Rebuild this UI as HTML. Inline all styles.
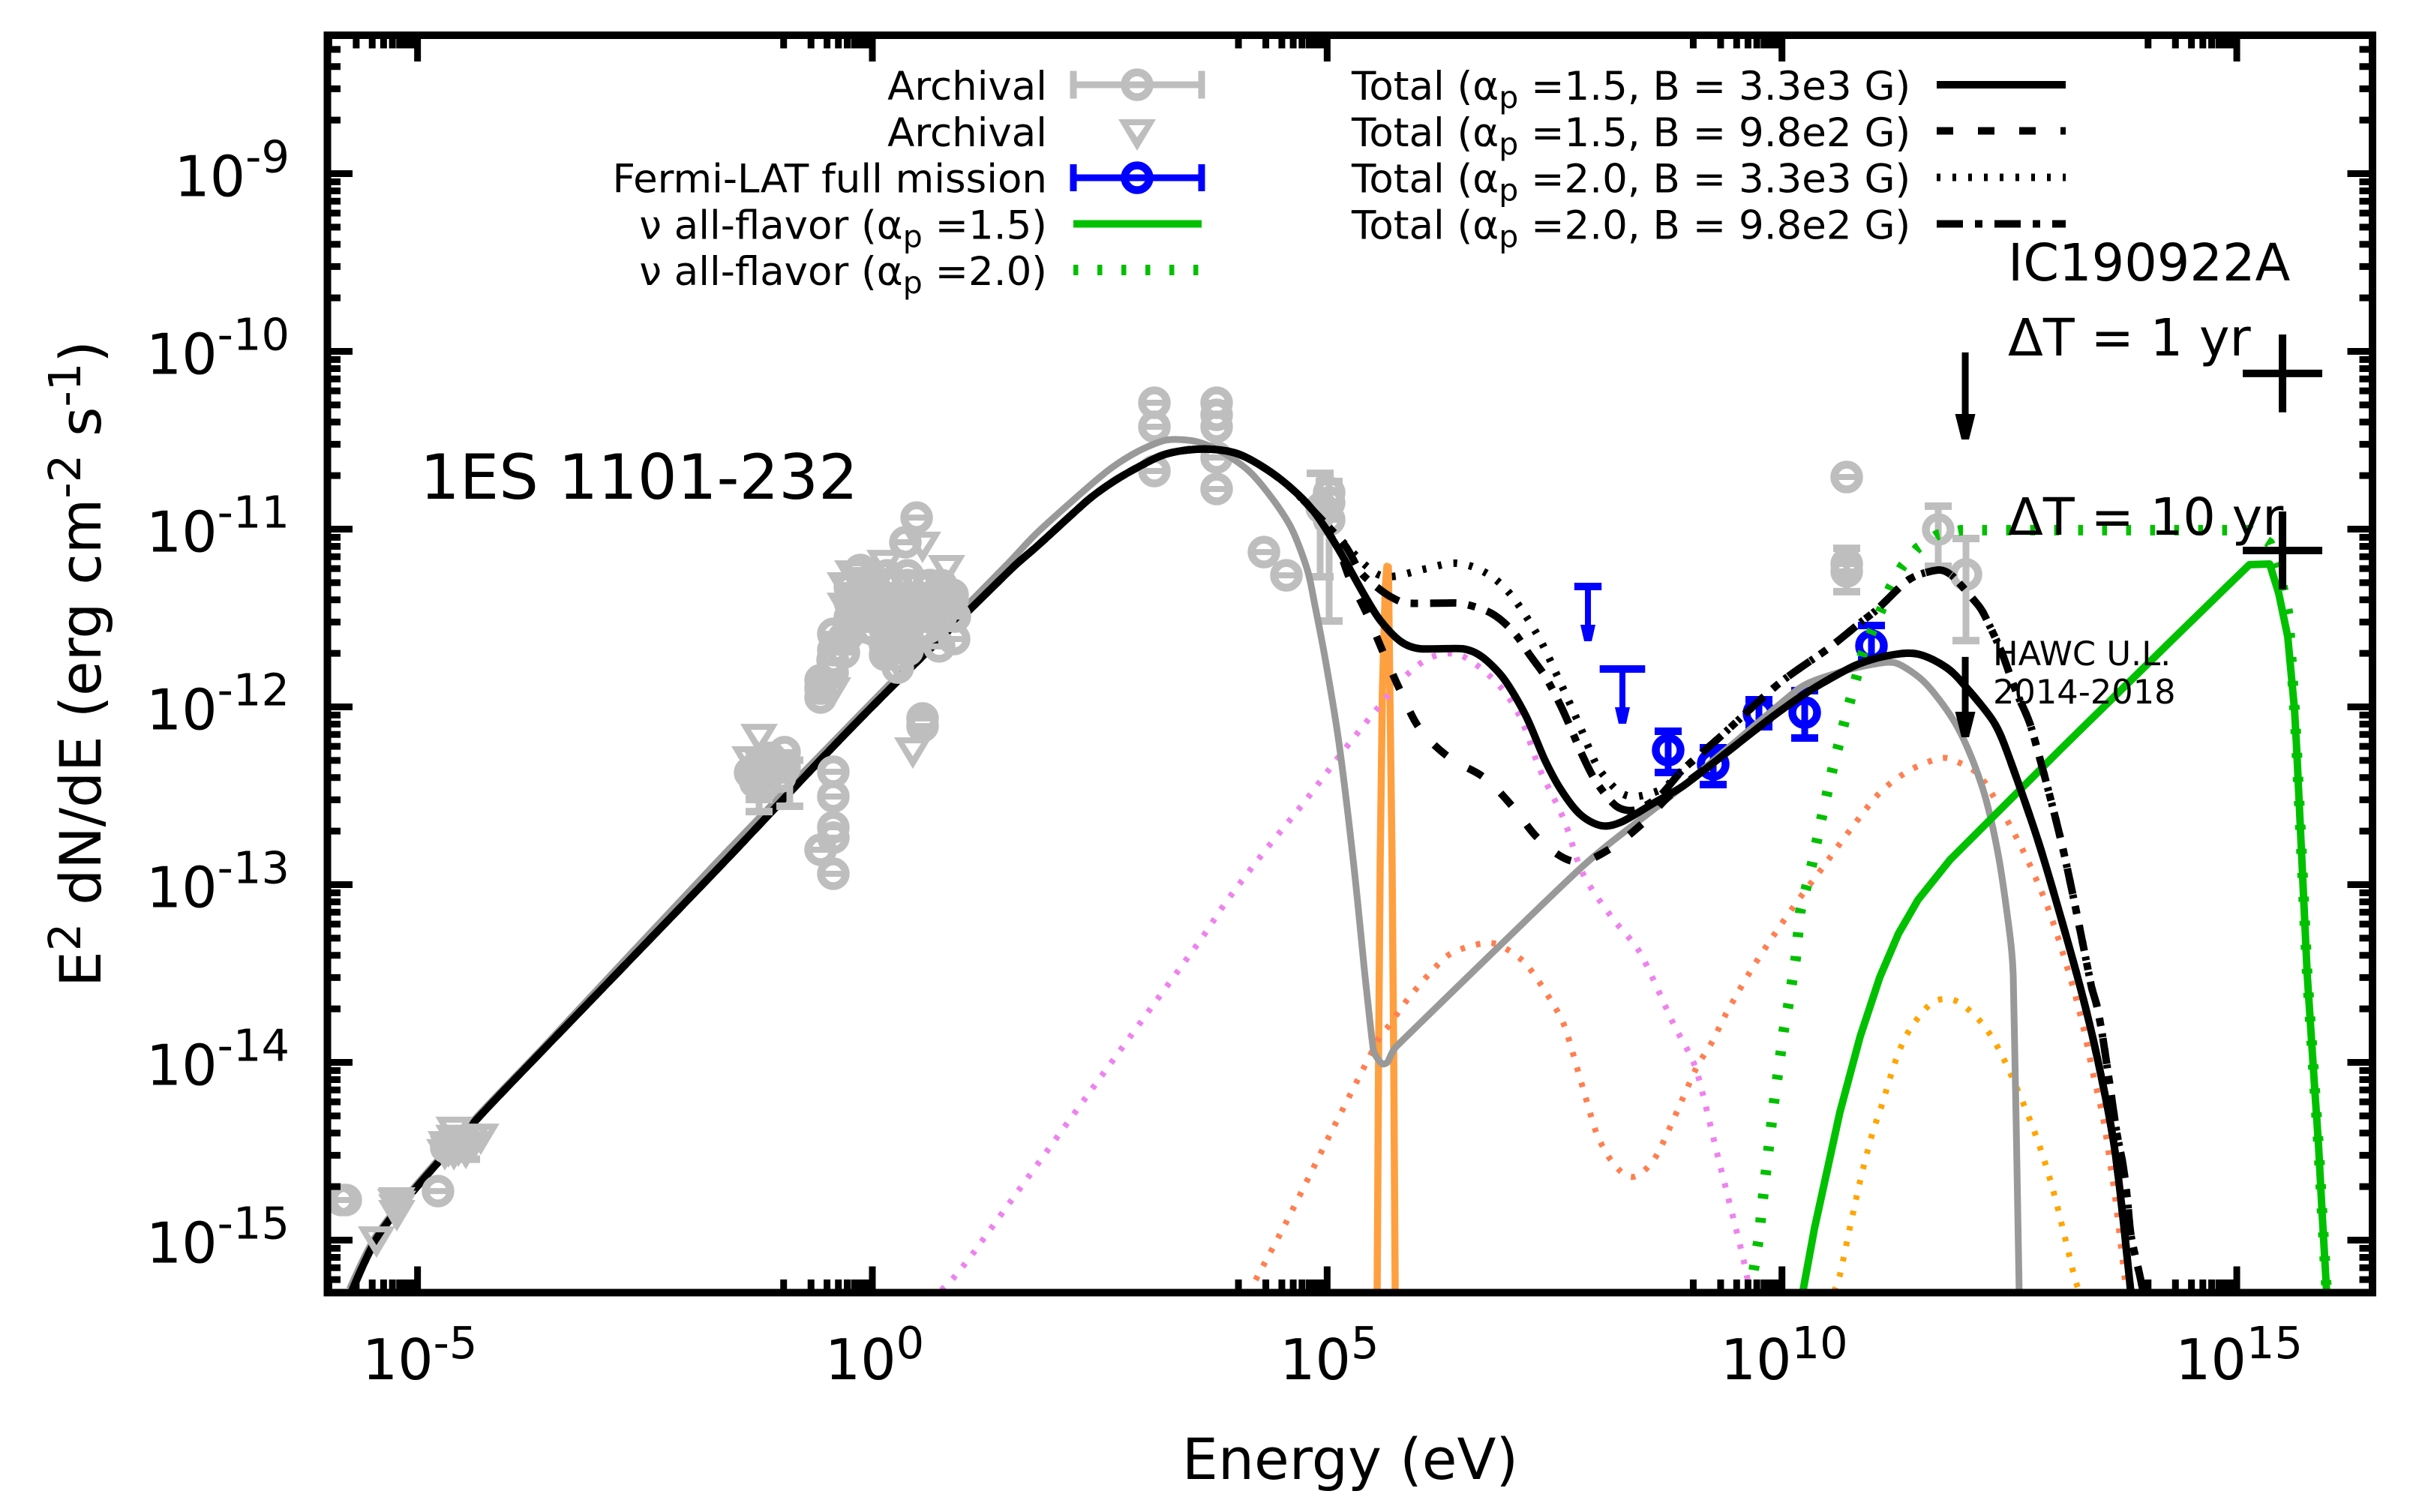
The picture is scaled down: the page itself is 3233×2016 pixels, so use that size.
<!DOCTYPE html>
<html lang="en">
<head>
<meta charset="utf-8">
<title>1ES 1101-232 SED</title>
<style>
html,body{margin:0;padding:0;background:#fff;}
svg{display:block;}
text{font-family:"DejaVu Sans","Liberation Sans",sans-serif;fill:#000;}
</style>
</head>
<body>
<svg id="chart" xmlns="http://www.w3.org/2000/svg" width="3233" height="2016" viewBox="0 0 3233 2016">
  <rect x="0" y="0" width="3233" height="2016" fill="#fff"/>
  <defs><clipPath id="plotClip"><rect x="436" y="47" width="2727" height="1677"/></clipPath></defs>
  <g id="under" clip-path="url(#plotClip)"></g>
  <g id="curves" clip-path="url(#plotClip)"></g>
  <g id="over" clip-path="url(#plotClip)"></g>
  <g id="axes"></g>

  <g font-size="53" text-anchor="end">
    <text x="1396" y="133">Archival</text>
    <text x="1396" y="195">Archival</text>
    <text x="1396" y="256.5">Fermi-LAT full mission</text>
    <text x="1396" y="318.5">ν all-flavor (α<tspan dy="11" font-size="41">p</tspan><tspan dy="-11"> =1.5)</tspan></text>
    <text x="1396" y="380">ν all-flavor (α<tspan dy="11" font-size="41">p</tspan><tspan dy="-11"> =2.0)</tspan></text>
  </g>
  <g fill="none">
    <g stroke="#bebebe" stroke-width="9">
      <line x1="1431" y1="113" x2="1602" y2="113"/><line x1="1431" y1="94.5" x2="1431" y2="131.5"/><line x1="1602" y1="94.5" x2="1602" y2="131.5"/>
      <circle cx="1516" cy="113" r="16.5" stroke-width="10.5"/>
    </g>
    <path d="M1491,159 L1541,159 L1516,201 Z M1505,167 L1527,167 L1516,183 Z" fill="#bebebe" fill-rule="evenodd"/>
    <g stroke="#0000ff" stroke-width="9">
      <line x1="1431" y1="237" x2="1602" y2="237"/><line x1="1431" y1="219" x2="1431" y2="255"/><line x1="1602" y1="219" x2="1602" y2="255"/>
      <circle cx="1516" cy="237" r="16.5" stroke-width="10.5"/>
    </g>
    <line x1="1431" y1="298.5" x2="1602" y2="298.5" stroke="#00c000" stroke-width="10"/>
    <line x1="1431" y1="360" x2="1602" y2="360" stroke="#00c000" stroke-width="14" stroke-dasharray="6.5 25.5"/>
  </g>
  <g font-size="53">
    <text x="1802" y="133">Total (α<tspan dy="11" font-size="41">p</tspan><tspan dy="-11"> =1.5, B = 3.3e3 G)</tspan></text>
    <text x="1802" y="195">Total (α<tspan dy="11" font-size="41">p</tspan><tspan dy="-11"> =1.5, B = 9.8e2 G)</tspan></text>
    <text x="1802" y="256.5">Total (α<tspan dy="11" font-size="41">p</tspan><tspan dy="-11"> =2.0, B = 3.3e3 G)</tspan></text>
    <text x="1802" y="318.5">Total (α<tspan dy="11" font-size="41">p</tspan><tspan dy="-11"> =2.0, B = 9.8e2 G)</tspan></text>
  </g>
  <g stroke="#000" stroke-width="10" fill="none">
    <line x1="2582" y1="113" x2="2754" y2="113"/>
    <line x1="2582" y1="174.5" x2="2754" y2="174.5" stroke-dasharray="22 33"/>
    <line x1="2582" y1="236.5" x2="2754" y2="236.5" stroke-dasharray="5 16"/>
    <line x1="2582" y1="298.5" x2="2754" y2="298.5" stroke-dasharray="35 16 10 16"/>
  </g>

  <text x="560" y="665" font-size="83">1ES 1101-232</text>
  <text x="2677" y="374" font-size="68.5">IC190922A</text>
  <text x="2677" y="474" font-size="68.5">ΔT = 1 yr</text>
  <text x="2677" y="713" font-size="68.5">ΔT = 10 yr</text>
  <text x="2657" y="887" font-size="44.7">HAWC U.L.</text>
  <text x="2657" y="938" font-size="44.7">2014-2018</text>

  <text x="1800" y="1972" font-size="76" text-anchor="middle">Energy (eV)</text>
  <text transform="translate(134,1316) rotate(-90)" font-size="75.5">E<tspan dy="-27" font-size="59">2</tspan><tspan dy="27"> dN/dE (erg cm</tspan><tspan dy="-27" font-size="59">-2</tspan><tspan dy="27"> s</tspan><tspan dy="-27" font-size="59">-1</tspan><tspan dy="27">)</tspan></text>
</svg>
<script>
// ---------- axis tick data ----------
const xMajorDecades = [-5, 0, 5, 10, 15];
const xTickSup = ['-5', '0', '5', '10', '15'];
const yMajorDecades = [-9, -10, -11, -12, -13, -14, -15];
const yTickSup = ['-9', '-10', '-11', '-12', '-13', '-14', '-15'];

// ---------- model curves: log10(E/eV), log10(flux) ----------
const commonLogE = [-5.723,-5.442,-5.038,-4.354,-3.620,-1.674,-0.148,1.542,1.814,2.367,2.639,2.919,3.191,3.463,3.744,4.016,4.288,4.568,4.840];
const commonLogF = [-15.289,-14.985,-14.719,-14.323,-13.930,-12.897,-12.074,-11.217,-11.095,-10.838,-10.736,-10.652,-10.584,-10.555,-10.551,-10.576,-10.648,-10.753,-10.892];
const solidMidLogE = [5.113,5.393,5.583,5.805,6.020,6.490,6.704,6.943,7.183,7.388,7.570,7.784,8.023,8.254,8.601,8.914];
const solidMidLogF = [-11.103,-11.357,-11.513,-11.631,-11.673,-11.673,-11.719,-11.842,-12.049,-12.293,-12.466,-12.606,-12.669,-12.643,-12.538,-12.445];
const highTailLogE = [9.384,9.912,10.332,10.811,11.173,11.495,11.808,12.023,12.320,12.468,12.839,13.243,13.466,13.664,13.837];
const highTailLogF = [-12.260,-12.049,-11.901,-11.766,-11.711,-11.703,-11.779,-11.888,-12.078,-12.243,-12.791,-13.508,-13.973,-14.508,-15.302];
const dashedMidLogE = [5.113,5.253,5.442,5.624,5.813,6.020,6.341,6.729,7.050,7.339,7.727,8.122,8.494,8.782];
const dashedMidLogF = [-11.103,-11.285,-11.483,-11.703,-11.918,-12.124,-12.285,-12.399,-12.568,-12.749,-12.871,-12.795,-12.643,-12.492];
const dottedMidLogE = [5.088,5.310,5.434,5.583,5.764,6.094,6.432,6.762,7.026,7.314,7.545,7.760,7.966,8.180,8.337,8.518,8.708];
const dottedMidLogF = [-11.027,-11.146,-11.209,-11.260,-11.264,-11.222,-11.192,-11.251,-11.373,-11.597,-11.842,-12.087,-12.331,-12.466,-12.504,-12.492,-12.454];
const dashDotMidLogE = [5.195,5.360,5.517,5.690,5.871,6.284,6.498,6.811,7.050,7.232,7.413,7.603,7.809,7.966,8.180,8.386,8.650];
const dashDotMidLogF = [-11.091,-11.238,-11.314,-11.378,-11.416,-11.416,-11.420,-11.475,-11.580,-11.711,-11.842,-12.032,-12.276,-12.428,-12.559,-12.580,-12.504];
const riseTailLogE = [8.914,9.335,9.962,10.505,10.852,11.041,11.338,11.487,11.734,11.883,12.171,12.270,12.419,12.567,12.740,13.086,13.400,13.466,13.532,13.614,13.680,13.746,13.796,13.837,13.928,13.977];
const riseTailLogF = [-12.352,-12.162,-11.871,-11.673,-11.530,-11.454,-11.306,-11.260,-11.230,-11.268,-11.437,-11.530,-11.698,-11.905,-12.116,-12.791,-13.568,-13.690,-13.876,-14.162,-14.394,-14.568,-14.762,-14.973,-15.184,-15.302];
const grayLogE = [-5.747,-5.467,-5.063,-4.379,-3.645,-1.715,-0.181,1.501,1.814,2.367,2.639,2.919,3.191,3.381,3.604,3.876,4.156,4.428,4.618,4.783,4.865,4.981,5.129,5.286,5.418,5.508,5.599,5.665,5.756,7.809,8.864,10.176,10.613,11.041,11.272,11.586,11.932,12.204,12.378,12.509,12.542,12.575,12.608];
const grayLogF = [-15.276,-14.985,-14.719,-14.323,-13.930,-12.876,-12.065,-11.188,-11.019,-10.766,-10.652,-10.563,-10.504,-10.496,-10.513,-10.576,-10.681,-10.850,-11.006,-11.230,-11.428,-11.736,-12.200,-12.859,-13.521,-13.930,-14.006,-13.998,-13.913,-12.897,-12.466,-11.901,-11.808,-11.757,-11.757,-11.871,-12.116,-12.454,-12.833,-13.297,-13.508,-14.352,-15.302];
const violetLogE = [0.759,0.899,1.113,2.367,3.604,3.892,4.313,4.758,5.179,5.624,5.863,6.152,6.473,6.861,7.125,7.339,7.603,7.809,8.122,8.444,8.807,9.054,9.310,9.565,9.648];
const violetLogF = [-15.281,-15.209,-15.070,-14.184,-13.314,-13.095,-12.812,-12.530,-12.247,-11.964,-11.825,-11.719,-11.711,-11.863,-12.061,-12.352,-12.635,-12.935,-13.179,-13.386,-13.783,-14.036,-14.559,-15.082,-15.289];
const coralLogE = [4.131,4.544,5.055,5.574,5.682,5.888,6.127,6.366,6.704,6.894,7.183,7.471,7.628,7.949,8.139,8.370,8.634,9.054,9.228,9.384,9.648,9.937,10.233,10.440,10.753,11.075,11.388,11.701,11.850,12.180,12.592,12.922,13.177,13.309,13.417,13.532,13.614,13.664,13.788];
const coralLogF = [-15.302,-14.905,-14.382,-13.859,-13.791,-13.643,-13.500,-13.386,-13.331,-13.340,-13.445,-13.660,-13.821,-14.382,-14.563,-14.644,-14.513,-14.036,-13.888,-13.728,-13.492,-13.264,-13.049,-12.909,-12.690,-12.483,-12.361,-12.293,-12.293,-12.390,-12.749,-13.129,-13.538,-13.795,-14.057,-14.319,-14.589,-14.762,-15.302];
const orangeDotLogE = [10.572,10.637,10.745,10.860,10.992,11.099,11.256,11.404,11.627,11.784,11.957,12.196,12.394,12.608,12.806,12.963,13.095,13.218,13.268];
const orangeDotLogF = [-15.289,-15.196,-14.935,-14.665,-14.403,-14.238,-13.981,-13.816,-13.673,-13.643,-13.665,-13.778,-13.935,-14.175,-14.433,-14.686,-14.951,-15.213,-15.289];
const neutrinoSolidLogE = [10.225,10.357,10.637,10.860,11.075,11.281,11.495,11.850,13.054,14.282,14.925,15.140,15.362,15.461,15.560,15.635,15.659,15.775,15.849,15.899,15.940,15.989];
const neutrinoSolidLogF = [-15.302,-14.935,-14.281,-13.854,-13.521,-13.276,-13.086,-12.859,-12.243,-11.627,-11.306,-11.200,-11.196,-11.361,-11.605,-12.019,-12.243,-13.508,-14.087,-14.470,-14.859,-15.302];
const neutrinoDotLogE = [9.648,9.747,9.788,9.912,10.019,10.069,10.151,10.200,10.332,10.440,10.555,10.679,10.819,10.885,10.984,11.091,11.190,11.322,11.487,11.709,11.973,15.140,15.362,15.461,15.568,15.635,15.659,15.775,15.849,15.899,15.940,15.989];
const neutrinoDotLogF = [-15.302,-14.985,-14.774,-14.226,-13.821,-13.681,-13.416,-13.154,-12.880,-12.614,-12.352,-12.099,-11.833,-11.703,-11.580,-11.454,-11.331,-11.209,-11.108,-11.032,-11.006,-11.006,-11.078,-11.222,-11.483,-12.019,-12.243,-13.508,-14.087,-14.470,-14.859,-15.302];
const spikeLogE = [5.550,5.566,5.583,5.607,5.640,5.657,5.673,5.690,5.714,5.731,5.748];
const spikeLogF = [-15.302,-13.930,-12.859,-11.918,-11.314,-11.209,-11.213,-11.918,-12.859,-13.930,-15.302];

// ---------- archival data: circles under the curves ----------
const lowCircleLogE = [3.101,3.101,3.101,3.785,3.785,3.785,3.785,3.785,4.305,4.552,4.940,5.022,5.022,5.022,10.712,10.712,10.712];
const lowCircleLogF = [-10.289,-10.424,-10.673,-10.289,-10.357,-10.424,-10.597,-10.774,-11.129,-11.260,-10.880,-10.795,-10.850,-10.947,-10.707,-11.196,-11.238];
// ---------- archival data: circles over the curves ----------
const topCircleLogE = [-5.838,-5.789,-4.775,-4.684,0.487,0.363,-0.132,-0.247,-0.247,-0.247,-0.049,-0.049,-0.049,0.165,0.165,0.165,0.165,0.388,0.388,0.388,0.388,0.280,0.140,0.610,0.610,0.610,0.882,0.907,0.899,0.734,-0.429,-0.429,-0.429,-0.272,-0.569,-0.569,-0.437,0.552,0.552,-0.429,-0.429,-0.429,-0.429,-0.569,-0.429,-1.262,-0.965,-0.965,-1.286,-1.121,-1.237,
  -0.231,-0.231,-0.231,-0.107,-0.107,-0.107,0.016,0.016,0.016,0.016,0.140,0.140,0.140,0.140,0.140,0.264,0.264,0.264,0.264,0.264,0.388,0.388,0.388,0.388,0.388,0.511,0.511,0.511,0.511,0.635,0.635,0.635,0.759,0.759,0.759,0.882,0.882,
  -0.569,-0.437,-0.313,-0.313,-1.121,-1.014,-1.179,-1.344,-1.100];
const topCircleLogF = [-14.774,-14.774,-14.724,-14.479,-10.935,-11.074,-11.230,-11.327,-11.411,-11.496,-11.327,-11.441,-11.555,-11.260,-11.399,-11.538,-11.681,-11.260,-11.399,-11.538,-11.681,-11.779,-11.707,-11.327,-11.441,-11.555,-11.369,-11.492,-11.618,-11.660,-11.589,-11.681,-11.749,-11.597,-11.850,-11.947,-11.808,-12.065,-12.108,-12.365,-12.504,-12.677,-12.736,-12.804,-12.939,-12.335,-12.255,-12.340,-12.424,-12.327,-12.399,
  -11.315,-11.399,-11.483,-11.315,-11.399,-11.483,-11.315,-11.399,-11.483,-11.567,-11.315,-11.399,-11.483,-11.567,-11.652,-11.315,-11.399,-11.483,-11.567,-11.652,-11.315,-11.399,-11.483,-11.567,-11.652,-11.315,-11.399,-11.483,-11.567,-11.315,-11.399,-11.483,-11.315,-11.399,-11.483,-11.399,-11.483,
  -11.897,-11.736,-11.610,-11.694,-12.287,-12.393,-12.433,-12.370,-12.360];
// ---------- archival data: triangle limits ----------
const triangleLogE = [-5.451,-5.228,-5.228,-4.597,-4.305,-4.684,-4.544,-4.395,-4.659,-4.469,0.816,0.552,0.140,-0.214,-0.297,-0.297,0.445,-1.245,-1.344,-1.237,0.305,-0.437,
  -4.600,-4.500,-4.400,-4.550,-4.480,-4.600,-4.700,-5.228,-5.240,-5.220];
const triangleLogF = [-15.011,-14.791,-14.863,-14.394,-14.433,-14.475,-14.475,-14.475,-14.504,-14.513,-11.234,-11.103,-11.205,-11.264,-11.331,-11.446,-12.260,-12.184,-12.310,-12.310,-11.787,-11.922,
  -14.440,-14.440,-14.440,-14.500,-14.500,-14.520,-14.520,-14.830,-14.800,-14.810];
// ---------- archival data: vertical error bars ----------
const grayErrLogE = [4.923,5.022,10.712,11.718,12.023,-4.461,-1.245,-1.245,-0.907];
const grayErrHiLogF = [-10.686,-10.732,-11.108,-10.871,-11.053,-14.45,-12.243,-12.243,-12.300];
const grayErrLoLogF = [-11.268,-11.517,-11.352,-11.209,-11.627,-14.545,-12.589,-12.521,-12.559];
const grayVertLogE = [11.718,12.023];
const grayVertLogF = [-11.002,-11.255];

// ---------- Fermi-LAT ----------
const fermiLogE = [8.749,9.244,9.747,10.250,10.984];
const fermiLogF = [-12.243,-12.323,-12.036,-12.032,-11.656];
const fermiHiLogF = [-12.137,-12.230,-11.960,-11.909,-11.542];
const fermiLoLogF = [-12.369,-12.437,-12.112,-12.175,-11.736];
const fermiLimitLogE = [7.867,8.246];
const fermiLimitLogF = [-11.323,-11.787];
const fermiLimitHalfWidthDecades = [0.15,0.25];

// ---------- HAWC and IceCube limits ----------
const hawcLogE = [12.015,12.015];
const hawcTopLogF = [-10.006,-11.719];
const hawcTipLogF = [-10.496,-12.171];
const icecubeLogE = [15.503,15.503];
const icecubeLogF = [-10.124,-11.120];
const icecubeHalfWidthDecades = [0.437,0.437];
const icecubeHalfHeightDecades = [0.219,0.219];

// ---------- axis functions ----------
const xPx = v => 1163 + v * 121.27;
const yPx = v => 231.5 + (-9 - v) * 237;

const NS = 'http://www.w3.org/2000/svg';
const gUnder = document.getElementById('under');
const gCurves = document.getElementById('curves');
const gOver = document.getElementById('over');
const gAxes = document.getElementById('axes');

function mk(parent, tag, attrs) {
  const el = document.createElementNS(NS, tag);
  for (const k in attrs) el.setAttribute(k, attrs[k]);
  parent.appendChild(el);
  return el;
}
function seg(parent, x1, y1, x2, y2, color, w) {
  return mk(parent, 'line', {x1: x1, y1: y1, x2: x2, y2: y2, stroke: color, 'stroke-width': w});
}
// Bounded Catmull-Rom: tangent length limited by the shorter neighbouring segment, so no overshoot.
function smoothPath(pts) {
  let d = 'M' + pts[0][0].toFixed(1) + ',' + pts[0][1].toFixed(1);
  const tangent = i => {
    if (i === 0 || i === pts.length - 1) return [0, 0];
    const a = pts[i - 1], b = pts[i], c = pts[i + 1];
    const la = Math.hypot(b[0] - a[0], b[1] - a[1]), lc = Math.hypot(c[0] - b[0], c[1] - b[1]);
    const tx = c[0] - a[0], ty = c[1] - a[1], tl = Math.hypot(tx, ty) || 1;
    const s = Math.min(la, lc) / 3 / tl;
    return [tx * s, ty * s];
  };
  for (let i = 0; i < pts.length - 1; i++) {
    const t0 = tangent(i), t1 = tangent(i + 1);
    d += ' C' + (pts[i][0] + t0[0]).toFixed(1) + ',' + (pts[i][1] + t0[1]).toFixed(1) + ' ' +
         (pts[i + 1][0] - t1[0]).toFixed(1) + ',' + (pts[i + 1][1] - t1[1]).toFixed(1) + ' ' +
         pts[i + 1][0].toFixed(1) + ',' + pts[i + 1][1].toFixed(1);
  }
  return d;
}
function curve(parent, es, fs, color, w, dash, smooth) {
  const pts = es.map((e, i) => [xPx(e), yPx(fs[i])]);
  const d = smooth ? smoothPath(pts) : pts.map((p, i) => (i ? 'L' : 'M') + p[0].toFixed(1) + ',' + p[1].toFixed(1)).join(' ');
  const attrs = {d: d, fill: 'none', stroke: color, 'stroke-width': w, 'stroke-linejoin': 'round'};
  if (dash) attrs['stroke-dasharray'] = dash;
  return mk(parent, 'path', attrs);
}
function circleMark(parent, e, f, color, bar) {
  const g = mk(parent, 'g', {});
  const cx = xPx(e), cy = yPx(f);
  mk(g, 'circle', {cx: cx, cy: cy, r: 16.5, fill: 'none', stroke: color, 'stroke-width': 10.5});
  if (bar) seg(g, cx - 17, cy, cx + 17, cy, color, 8);
  return g;
}
function triangleMark(parent, e, f, color) {
  const cx = xPx(e), cy = yPx(f);
  const d = 'M' + (cx - 25) + ',' + (cy - 21) + ' L' + (cx + 25) + ',' + (cy - 21) + ' L' + cx + ',' + (cy + 21) + ' Z ' +
            'M' + (cx - 11) + ',' + (cy - 13) + ' L' + (cx + 11) + ',' + (cy - 13) + ' L' + cx + ',' + (cy + 4) + ' Z';
  return mk(parent, 'path', {d: d, fill: color, 'fill-rule': 'evenodd'});
}
function errBar(parent, e, hi, lo, color, capHalf) {
  const g = mk(parent, 'g', {});
  const x = xPx(e), y1 = yPx(hi), y2 = yPx(lo);
  seg(g, x, y1, x, y2, color, 9);
  seg(g, x - capHalf, y1, x + capHalf, y1, color, 10);
  seg(g, x - capHalf, y2, x + capHalf, y2, color, 10);
  return g;
}

// ---------- layer below the curves ----------
lowCircleLogE.forEach((e, i) => {
  const m = circleMark(gUnder, e, lowCircleLogF[i], '#bebebe', true);
  
  
});
grayErrLogE.slice(0, 5).forEach((e, i) => {
  const m = errBar(gUnder, e, grayErrHiLogF[i], grayErrLoLogF[i], '#bebebe', 18);
  
  
});
grayVertLogE.forEach((e, i) => {
  const m = circleMark(gUnder, e, grayVertLogF[i], '#bebebe', false);
  
  
});
fermiLogE.forEach((e, i) => {
  const b = errBar(gUnder, e, fermiHiLogF[i], fermiLoLogF[i], '#0000ff', 18);
  
  
  const m = circleMark(gUnder, e, fermiLogF[i], '#0000ff', false);
  
  
});
fermiLimitLogE.forEach((e, i) => {
  const g = mk(gUnder, 'g', {});
  
  
  const x = xPx(e), y = yPx(fermiLimitLogF[i]);
  const hw = fermiLimitHalfWidthDecades[i] * 121.27;
  seg(g, x - hw, y, x + hw, y, '#0000ff', 10);
  seg(g, x, y, x, y + 55, '#0000ff', 8);
  mk(g, 'polygon', {points: (x - 10) + ',' + (y + 51) + ' ' + (x + 10) + ',' + (y + 51) + ' ' + (x + 5) + ',' + (y + 73) + ' ' + (x - 5) + ',' + (y + 73), fill: '#0000ff'});
});

// ---------- curves ----------
const solidE = commonLogE.concat(solidMidLogE, highTailLogE);
const solidF = commonLogF.concat(solidMidLogF, highTailLogF);
const dashedE = commonLogE.concat(dashedMidLogE, highTailLogE);
const dashedF = commonLogF.concat(dashedMidLogF, highTailLogF);
const dottedE = commonLogE.concat(dottedMidLogE, riseTailLogE);
const dottedF = commonLogF.concat(dottedMidLogF, riseTailLogF);
const dashDotE = commonLogE.concat(dashDotMidLogE, riseTailLogE);
const dashDotF = commonLogF.concat(dashDotMidLogF, riseTailLogF);

let c;
c = curve(gCurves, spikeLogE, spikeLogF, '#ffa040', 9.5);


c = curve(gCurves, violetLogE, violetLogF, '#ee82ee', 8, '6 15', true);


c = curve(gCurves, coralLogE, coralLogF, '#ff7f50', 8, '6 15', true);


c = curve(gCurves, orangeDotLogE, orangeDotLogF, '#ffa500', 8, '6 15', true);


c = curve(gCurves, grayLogE, grayLogF, '#999999', 9, null, true);


c = curve(gCurves, neutrinoSolidLogE, neutrinoSolidLogF, '#00c000', 10);


c = curve(gCurves, neutrinoDotLogE, neutrinoDotLogF, '#00c000', 14, '6.5 25.5');


c = curve(gCurves, dottedE, dottedF, '#000', 10, '5 16', true);


c = curve(gCurves, dashDotE, dashDotF, '#000', 10, '35 16 10 16', true);


c = curve(gCurves, dashedE, dashedF, '#000', 10, '22 33', true);


c = curve(gCurves, solidE, solidF, '#000', 10, null, true);



// ---------- layer above the curves ----------
grayErrLogE.slice(5).forEach((e, i) => {
  const m = errBar(gOver, e, grayErrHiLogF[i + 5], grayErrLoLogF[i + 5], '#bebebe', 18);
  
  
});
topCircleLogE.forEach((e, i) => {
  const m = circleMark(gOver, e, topCircleLogF[i], '#bebebe', true);
  
  
});
triangleLogE.forEach((e, i) => {
  const m = triangleMark(gOver, e, triangleLogF[i], '#bebebe');
  
  
});
hawcLogE.forEach((e, i) => {
  const g = mk(gOver, 'g', {});
  
  
  const x = xPx(e), y1 = yPx(hawcTopLogF[i]), y2 = yPx(hawcTipLogF[i]);
  seg(g, x, y1, x, y2 - 25, '#000', 9);
  mk(g, 'polygon', {points: (x - 13.5) + ',' + (y2 - 34) + ' ' + (x + 13.5) + ',' + (y2 - 34) + ' ' + (x + 5) + ',' + y2 + ' ' + (x - 5) + ',' + y2, fill: '#000'});
});
icecubeLogE.forEach((e, i) => {
  const g = mk(gOver, 'g', {});
  
  
  const x = xPx(e), y = yPx(icecubeLogF[i]);
  const hw = icecubeHalfWidthDecades[i] * 121.27, hh = icecubeHalfHeightDecades[i] * 237;
  seg(g, x - hw, y, x + hw, y, '#000', 10);
  seg(g, x, y - hh, x, y + hh, '#000', 10);
});

// ---------- axes ----------
const left = 436.5, right = 3163, top_ = 47, bottom = 1723.5;
function xTick(px, len, name) {
  [[bottom, bottom - len], [top_, top_ + len]].forEach(p => {
    const t = seg(gAxes, px, p[0], px, p[1], '#000', 9);
    
    
  });
}
function yTick(py, len, name) {
  [[left, left + len], [right, right - len]].forEach(p => {
    const t = seg(gAxes, p[0], py, p[1], py, '#000', 9);
    
    
  });
}
xMajorDecades.forEach((d, i) => {
  xTick(xPx(d), 35, 'x-major-tick');
  for (let k = 1; k <= 9; k++) {
    xTick(xPx(d - 1 + Math.log10(k)) + 3, 17.5, 'x-minor-tick');
  }
  const t = mk(gAxes, 'text', {x: xPx(d) + 3, y: 1839, 'font-size': 74.5, 'text-anchor': 'middle'});
  
  
  t.appendChild(document.createTextNode('10'));
  const s = mk(t, 'tspan', {dy: -28, 'font-size': 59});
  s.textContent = xTickSup[i];
});
yMajorDecades.forEach((d, i) => {
  yTick(yPx(d), 33.5, 'y-major-tick');
  const t = mk(gAxes, 'text', {x: 386, y: yPx(d) + 30, 'font-size': 74.5, 'text-anchor': 'end'});
  
  
  t.appendChild(document.createTextNode('10'));
  const s = mk(t, 'tspan', {dy: -32, 'font-size': 59});
  s.textContent = yTickSup[i];
});
for (let d = -16; d <= -9; d++) {
  for (let k = 2; k <= 9; k++) {
    const py = yPx(d + Math.log10(k));
    if (py > top_ + 3 && py < bottom - 3) yTick(py, 17.5, 'y-minor-tick');
  }
}
const frame = mk(gAxes, 'rect', {x: left, y: top_, width: right - left, height: bottom - top_, fill: 'none', stroke: '#000', 'stroke-width': 10});


</script>
</body>
</html>
